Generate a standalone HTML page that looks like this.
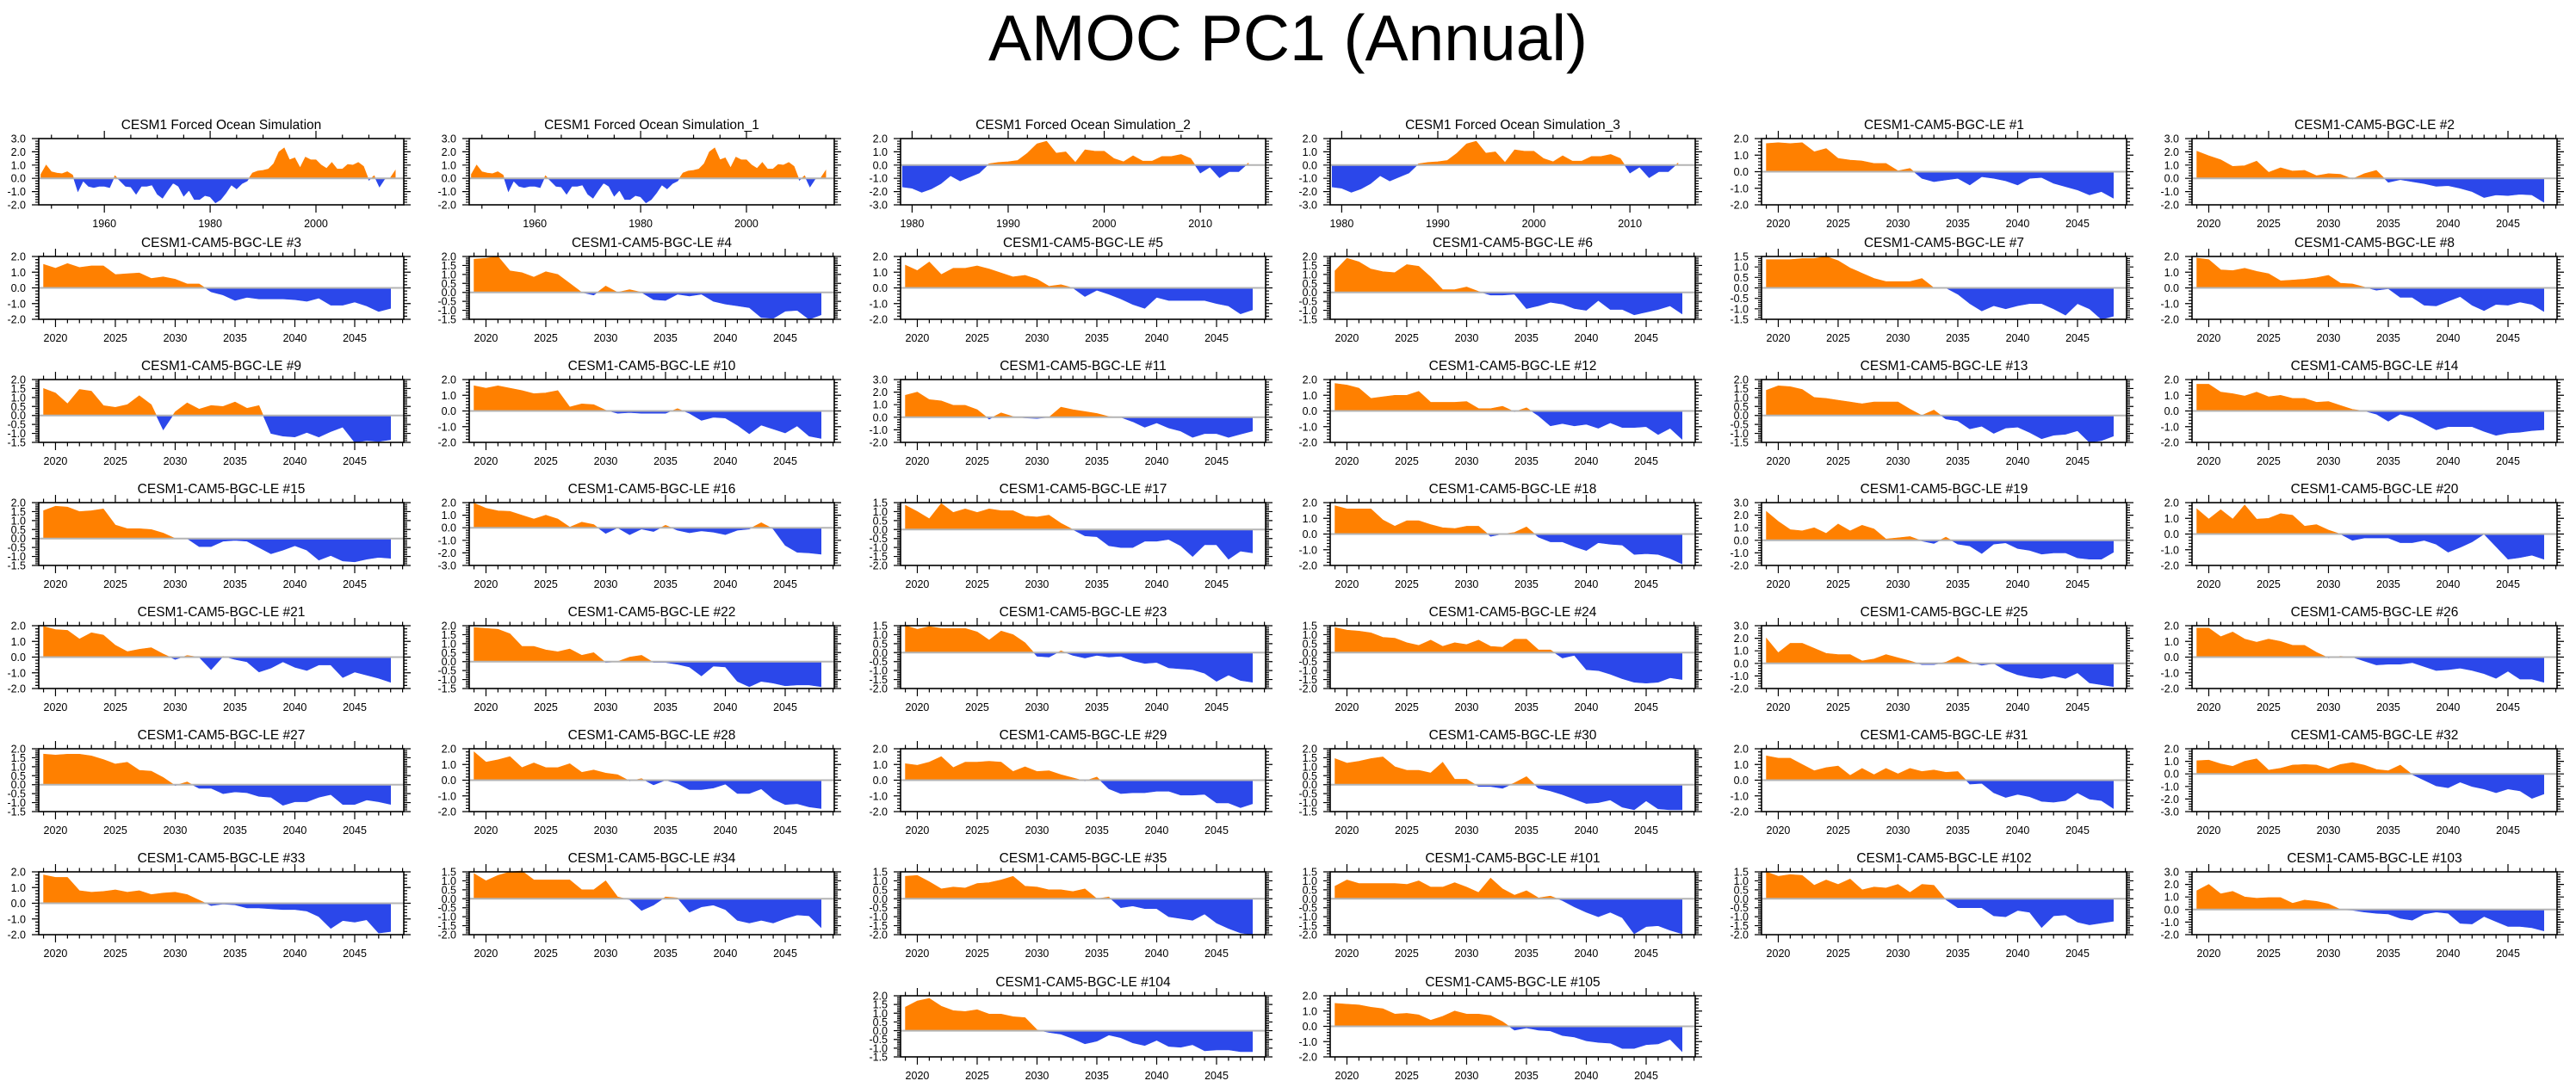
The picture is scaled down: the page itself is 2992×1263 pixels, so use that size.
<!DOCTYPE html>
<html><head><meta charset="utf-8"><title>AMOC PC1 (Annual)</title>
<style>
html,body{margin:0;padding:0;background:#fff;}
svg{display:block;font-family:"Liberation Sans",Arial,sans-serif;}
</style></head>
<body>
<svg id="fig" width="2992" height="1263" viewBox="0 0 2992 1263" xmlns="http://www.w3.org/2000/svg">
<rect width="2992" height="1263" fill="#fff"/>
<text x="1496" y="70" font-size="75" text-anchor="middle" fill="#000">AMOC PC1 (Annual)</text>
</svg>
<script>
// ---- chart data ----
const titles = ["CESM1 Forced Ocean Simulation","CESM1 Forced Ocean Simulation_1","CESM1 Forced Ocean Simulation_2","CESM1 Forced Ocean Simulation_3",
"CESM1-CAM5-BGC-LE #1","CESM1-CAM5-BGC-LE #2","CESM1-CAM5-BGC-LE #3","CESM1-CAM5-BGC-LE #4","CESM1-CAM5-BGC-LE #5","CESM1-CAM5-BGC-LE #6","CESM1-CAM5-BGC-LE #7","CESM1-CAM5-BGC-LE #8",
"CESM1-CAM5-BGC-LE #9","CESM1-CAM5-BGC-LE #10","CESM1-CAM5-BGC-LE #11","CESM1-CAM5-BGC-LE #12","CESM1-CAM5-BGC-LE #13","CESM1-CAM5-BGC-LE #14",
"CESM1-CAM5-BGC-LE #15","CESM1-CAM5-BGC-LE #16","CESM1-CAM5-BGC-LE #17","CESM1-CAM5-BGC-LE #18","CESM1-CAM5-BGC-LE #19","CESM1-CAM5-BGC-LE #20",
"CESM1-CAM5-BGC-LE #21","CESM1-CAM5-BGC-LE #22","CESM1-CAM5-BGC-LE #23","CESM1-CAM5-BGC-LE #24","CESM1-CAM5-BGC-LE #25","CESM1-CAM5-BGC-LE #26",
"CESM1-CAM5-BGC-LE #27","CESM1-CAM5-BGC-LE #28","CESM1-CAM5-BGC-LE #29","CESM1-CAM5-BGC-LE #30","CESM1-CAM5-BGC-LE #31","CESM1-CAM5-BGC-LE #32",
"CESM1-CAM5-BGC-LE #33","CESM1-CAM5-BGC-LE #34","CESM1-CAM5-BGC-LE #35","CESM1-CAM5-BGC-LE #101","CESM1-CAM5-BGC-LE #102","CESM1-CAM5-BGC-LE #103",
"CESM1-CAM5-BGC-LE #104","CESM1-CAM5-BGC-LE #105"];
const startYears = [1948,1948,1979,1979].concat(new Array(40).fill(2019));
const xMins = [1947.6,1947.6,1978.8,1978.8].concat(new Array(40).fill(2018.6));
const xMaxs = [2016.6,2016.6,2016.8,2016.8].concat(new Array(40).fill(2049.1));
const yMins = [-2,-2,-3,-3, -2,-2, -2,-1.5,-2,-1.5,-1.5,-2, -1.5,-2,-2,-2,-1.5,-2, -1.5,-3,-2,-2,-2,-2, -2,-1.5,-2,-2,-2,-2, -1.5,-2,-2,-1.5,-2,-3, -2,-2,-2,-2,-2,-2, -1.5,-2];
const yMaxs = [3,3,2,2, 2,3, 2,2,2,2,1.5,2, 2,2,3,2,2,2, 2,2,1.5,2,3,2, 2,2,1.5,1.5,3,2, 2,2,2,2,2,2, 2,1.5,1.5,1.5,1.5,3, 2,2];
const ySteps = [1,1,1,1, 1,1, 1,0.5,1,0.5,0.5,1, 0.5,1,1,1,0.5,1, 0.5,1,0.5,1,1,1, 1,0.5,0.5,0.5,1,1, 0.5,1,1,0.5,1,1, 1,0.5,0.5,0.5,0.5,1, 0.5,1];

const fos = [0.3,1.0,0.5,0.4,0.35,0.5,0.25,-1.0,-0.2,-0.6,-0.7,-0.6,-0.6,-0.7,0.2,-0.2,-0.6,-0.65,-1.2,-0.6,-0.6,-0.5,-1.2,-1.5,-0.9,-0.35,-0.6,-1.35,-0.9,-1.6,-1.6,-1.3,-1.4,-1.85,-1.6,-1.1,-0.5,-0.8,-0.4,-0.2,0.4,0.55,0.6,0.7,1.1,2.0,2.3,1.4,1.55,0.8,1.6,1.4,1.4,1.0,0.75,1.2,0.7,0.7,1.05,1.0,1.2,0.9,-0.15,0.2,-0.65,-0.05,0.0,0.6];
const fos1 = [0.3,1.0,0.5,0.4,0.35,0.5,0.25,-1.0,-0.2,-0.6,-0.7,-0.6,-0.6,-0.7,0.2,-0.2,-0.6,-0.65,-1.2,-0.6,-0.6,-0.5,-1.2,-1.5,-0.9,-0.35,-0.6,-1.35,-0.9,-1.6,-1.6,-1.3,-1.4,-1.85,-1.6,-1.1,-0.5,-0.8,-0.4,-0.2,0.4,0.55,0.6,0.7,1.1,2.0,2.3,1.4,1.55,0.8,1.6,1.4,1.4,1.0,0.75,1.2,0.7,0.7,1.05,1.0,1.2,0.9,-0.15,0.2,-0.65,-0.05,0.0,0.6];
const fos2 = [-1.65,-1.75,-2.05,-1.8,-1.4,-0.8,-1.2,-0.9,-0.6,0.1,0.2,0.25,0.35,0.9,1.6,1.8,0.9,1.0,0.2,1.15,1.05,1.05,0.5,0.25,0.7,0.3,0.3,0.65,0.65,0.8,0.5,-0.6,-0.15,-0.95,-0.5,-0.5,0.15];
const fos3 = [-1.65,-1.75,-2.05,-1.8,-1.4,-0.8,-1.2,-0.9,-0.6,0.1,0.2,0.25,0.35,0.9,1.6,1.8,0.9,1.0,0.2,1.15,1.05,1.05,0.5,0.25,0.7,0.3,0.3,0.65,0.65,0.8,0.5,-0.6,-0.15,-0.95,-0.5,-0.5,0.15];
const le1 = [1.7,1.75,1.7,1.75,1.2,1.4,0.8,0.7,0.65,0.5,0.5,0.05,0.2,-0.4,-0.6,-0.5,-0.4,-0.8,-0.3,-0.4,-0.55,-0.8,-0.4,-0.35,-0.7,-0.9,-1.1,-1.4,-1.2,-1.6];
const le2 = [2.05,1.7,1.4,0.9,0.95,1.3,0.45,0.8,0.55,0.6,0.2,0.35,0.3,-0.05,0.35,0.6,-0.3,-0.1,-0.25,-0.4,-0.6,-0.55,-0.75,-1.0,-1.45,-1.25,-1.3,-1.2,-1.25,-1.8];
const le3 = [1.5,1.25,1.55,1.3,1.4,1.4,0.85,0.9,0.95,0.6,0.7,0.55,0.25,0.25,-0.25,-0.45,-0.8,-0.6,-0.7,-0.7,-0.7,-0.75,-0.85,-0.65,-1.1,-1.1,-0.9,-1.15,-1.5,-1.3];
const le4 = [1.85,1.9,2.0,1.2,1.1,0.85,1.15,1.0,0.5,0.0,-0.15,0.35,0.0,0.15,0.0,-0.4,-0.45,-0.1,-0.2,-0.1,-0.5,-0.65,-0.75,-0.85,-1.4,-1.45,-1.05,-1.0,-1.5,-1.25];
const le5 = [1.45,1.1,1.65,0.85,1.25,1.25,1.4,1.2,0.95,0.7,0.8,0.55,0.1,0.2,0.0,-0.55,-0.15,-0.4,-0.7,-1.05,-1.3,-0.6,-0.8,-0.8,-0.8,-0.8,-1.0,-1.15,-1.65,-1.4];
const le6 = [1.2,1.9,1.7,1.3,1.15,1.1,1.55,1.45,0.85,0.15,0.15,0.3,0.05,-0.15,-0.15,-0.1,-0.9,-0.75,-0.55,-0.65,-0.9,-1.0,-0.45,-0.95,-0.95,-1.25,-1.1,-0.95,-0.75,-1.2];
const le7 = [1.35,1.35,1.35,1.4,1.4,1.5,1.3,0.95,0.7,0.45,0.3,0.3,0.3,0.45,0.0,0.0,-0.3,-0.75,-1.1,-0.85,-1.0,-0.85,-0.75,-0.75,-1.0,-1.3,-0.75,-1.0,-1.5,-1.35];
const le8 = [1.9,1.8,1.15,1.1,1.25,1.05,0.9,0.45,0.5,0.55,0.65,0.8,0.3,0.25,0.05,-0.15,-0.05,-0.6,-0.6,-1.1,-1.15,-0.85,-0.55,-1.1,-1.45,-1.05,-1.1,-0.9,-1.05,-1.5];
const le9 = [1.5,1.25,0.65,1.45,1.35,0.55,0.45,0.6,1.1,0.6,-0.8,0.2,0.7,0.35,0.55,0.5,0.75,0.4,0.55,-1.0,-1.15,-1.2,-0.95,-1.2,-0.9,-0.65,-1.5,-1.4,-1.45,-1.35];
const le10 = [1.6,1.45,1.6,1.45,1.3,1.1,1.15,1.3,0.25,0.45,0.4,0.05,-0.15,-0.1,-0.15,-0.15,-0.15,0.15,-0.15,-0.6,-0.4,-0.45,-0.9,-1.45,-0.9,-1.15,-1.4,-0.95,-1.6,-1.75];
const le11 = [1.75,2.0,1.4,1.3,0.95,0.95,0.6,-0.15,0.35,0.05,-0.05,-0.1,0.0,0.8,0.6,0.45,0.3,0.05,0.0,-0.35,-0.8,-0.45,-0.85,-1.1,-1.6,-1.3,-1.3,-1.6,-1.35,-1.1];
const le12 = [1.75,1.65,1.45,0.8,0.9,1.0,1.0,1.25,0.55,0.55,0.55,0.6,0.15,0.15,0.3,-0.05,0.2,-0.3,-0.95,-0.8,-0.95,-0.85,-1.1,-0.75,-1.05,-1.05,-1.0,-1.5,-1.1,-1.8];
const le13 = [1.4,1.65,1.6,1.45,1.0,0.95,0.85,0.75,0.65,0.75,0.75,0.75,0.35,0.0,0.3,-0.2,-0.3,-0.75,-0.6,-1.0,-0.7,-0.65,-0.95,-1.3,-1.1,-1.05,-0.85,-1.5,-1.4,-1.15];
const le14 = [1.7,1.7,1.2,1.1,0.95,1.2,0.9,1.0,0.8,0.8,0.55,0.6,0.35,0.1,0.0,-0.2,-0.65,-0.2,-0.4,-0.8,-1.2,-1.0,-1.0,-1.0,-1.3,-1.55,-1.4,-1.35,-1.25,-1.2];
const le15 = [1.55,1.8,1.75,1.5,1.55,1.65,0.75,0.55,0.55,0.5,0.3,0.0,0.0,-0.45,-0.45,-0.15,-0.1,-0.15,-0.5,-0.85,-0.65,-0.4,-0.65,-1.2,-0.95,-1.25,-1.3,-1.15,-1.05,-1.1];
const le16 = [1.95,1.55,1.35,1.3,1.0,0.7,1.0,0.7,0.05,0.45,0.25,-0.45,0.0,-0.55,-0.1,-0.3,0.2,-0.2,-0.4,-0.25,-0.35,-0.55,-0.2,-0.1,0.4,-0.1,-1.4,-1.95,-2.0,-2.1];
const le17 = [1.35,1.0,0.6,1.45,0.95,1.15,0.95,1.15,1.05,1.05,0.75,0.7,0.8,0.35,0.0,-0.35,-0.4,-0.9,-1.0,-1.0,-0.65,-0.65,-0.55,-0.9,-1.5,-0.85,-0.85,-1.65,-1.2,-1.3];
const le18 = [1.8,1.6,1.6,1.6,0.9,0.5,0.85,0.85,0.6,0.4,0.35,0.5,0.5,-0.15,0.0,0.1,0.45,-0.2,-0.5,-0.5,-0.8,-1.05,-0.55,-0.65,-0.7,-1.3,-1.25,-1.3,-1.55,-1.9];
const le19 = [2.3,1.5,0.85,0.75,1.0,0.55,1.3,0.75,1.2,0.9,0.1,0.2,0.3,-0.05,-0.25,0.25,-0.3,-0.45,-1.05,-0.3,-0.2,-0.65,-0.8,-1.1,-1.0,-1.0,-1.4,-1.5,-1.5,-0.95];
const le20 = [1.6,0.95,1.55,0.95,1.85,0.95,1.0,1.3,1.2,0.5,0.6,0.25,0.0,-0.4,-0.25,-0.25,-0.25,-0.55,-0.55,-0.4,-0.65,-1.15,-0.85,-0.5,0.0,-0.8,-1.6,-1.5,-1.35,-1.6];
const le21 = [1.95,1.75,1.7,1.15,1.55,1.4,0.75,0.35,0.5,0.6,0.2,-0.15,0.1,0.0,-0.8,0.05,-0.15,-0.3,-0.95,-0.7,-0.3,-0.65,-0.85,-0.5,-0.5,-1.3,-0.95,-1.15,-1.35,-1.6];
const le22 = [1.9,1.85,1.8,1.55,0.85,0.85,0.65,0.55,0.7,0.35,0.5,-0.05,0.0,0.25,0.35,-0.05,-0.05,-0.15,-0.3,-0.8,-0.25,-0.3,-1.1,-1.4,-1.1,-1.2,-1.35,-1.3,-1.3,-1.4];
const le23 = [1.5,1.3,1.45,1.35,1.35,1.35,1.15,0.7,1.2,1.0,0.55,-0.2,-0.25,0.1,-0.15,-0.3,-0.15,-0.25,-0.2,-0.45,-0.6,-0.55,-0.85,-0.9,-0.95,-1.15,-1.6,-1.25,-1.55,-1.65];
const le24 = [1.4,1.25,1.2,1.1,0.85,0.8,0.55,0.4,0.7,0.35,0.55,0.45,0.7,0.35,0.3,0.75,0.75,0.15,0.15,-0.3,-0.15,-0.95,-1.0,-1.2,-1.45,-1.65,-1.7,-1.65,-1.4,-1.5];
const le25 = [2.0,0.85,1.6,1.6,1.2,0.8,0.7,0.7,0.2,0.35,0.7,0.45,0.2,-0.1,-0.1,0.1,0.55,0.1,-0.15,0.0,-0.55,-0.9,-1.1,-1.2,-1.0,-1.2,-0.75,-1.55,-1.7,-1.85];
const le26 = [1.85,1.85,1.3,1.6,1.15,0.95,1.15,1.0,0.75,0.75,0.3,-0.05,0.05,0.0,-0.25,-0.5,-0.45,-0.45,-0.35,-0.6,-0.85,-0.8,-0.7,-0.85,-1.05,-1.35,-0.9,-1.4,-1.4,-1.6];
const le27 = [1.7,1.65,1.7,1.7,1.6,1.4,1.15,1.25,0.8,0.75,0.4,-0.05,0.15,-0.2,-0.2,-0.5,-0.4,-0.45,-0.65,-0.7,-1.15,-0.95,-0.95,-0.7,-0.55,-1.1,-1.1,-0.85,-0.95,-1.1];
const le28 = [1.8,1.15,1.3,1.5,0.8,1.1,0.8,0.8,1.05,0.5,0.65,0.45,0.35,-0.05,0.1,-0.3,0.0,-0.2,-0.6,-0.6,-0.5,-0.25,-0.85,-0.85,-0.55,-1.2,-1.55,-1.5,-1.7,-1.8];
const le29 = [1.05,0.95,1.15,1.5,0.8,1.15,1.15,1.2,1.15,0.55,0.85,0.55,0.6,0.35,0.15,-0.05,0.2,-0.55,-0.85,-0.8,-0.8,-0.7,-0.7,-0.95,-0.95,-0.9,-1.45,-1.45,-1.75,-1.5];
const le30 = [1.45,1.2,1.3,1.45,1.55,1.0,0.8,0.8,0.65,1.25,0.3,0.3,-0.1,-0.1,-0.2,0.1,0.45,-0.2,-0.35,-0.55,-0.8,-1.05,-1.0,-0.85,-1.25,-1.4,-0.9,-1.35,-1.4,-1.4];
const le31 = [1.55,1.4,1.4,1.0,0.6,0.8,0.9,0.3,0.75,0.35,0.75,0.4,0.75,0.55,0.65,0.5,0.55,-0.25,-0.2,-0.8,-1.1,-0.9,-1.05,-1.35,-1.4,-1.3,-0.8,-1.2,-1.3,-1.8];
const le32 = [1.05,1.1,0.8,0.6,1.0,1.2,0.3,0.45,0.7,0.75,0.7,0.4,0.75,0.9,0.7,0.35,0.25,0.7,-0.05,-0.5,-0.95,-1.1,-0.65,-1.0,-1.2,-1.5,-1.2,-1.35,-1.95,-1.6];
const le33 = [1.8,1.65,1.65,0.8,0.7,0.75,0.85,0.7,0.8,0.55,0.65,0.7,0.55,0.2,-0.15,-0.05,-0.1,-0.3,-0.3,-0.35,-0.4,-0.4,-0.5,-0.85,-1.6,-1.1,-1.2,-1.05,-1.9,-1.8];
const le34 = [1.4,1.0,1.3,1.5,1.55,1.05,1.05,1.05,1.05,0.5,0.5,1.0,0.1,-0.05,-0.65,-0.35,0.1,0.05,-0.75,-0.45,-0.35,-0.6,-1.2,-1.35,-1.2,-1.35,-1.1,-0.9,-0.95,-1.6];
const le35 = [1.25,1.3,0.95,0.55,0.65,0.6,0.85,0.9,1.05,1.25,0.7,0.65,0.5,0.5,0.4,0.55,0.0,0.1,-0.5,-0.4,-0.55,-0.55,-1.0,-1.1,-1.2,-0.85,-1.35,-1.65,-1.9,-2.0];
const le101 = [0.7,1.05,0.85,0.85,0.85,0.85,0.8,1.0,0.65,0.65,0.9,0.65,0.35,1.15,0.55,0.2,0.45,0.05,0.15,-0.1,-0.45,-0.75,-1.0,-0.75,-1.05,-1.95,-1.55,-1.5,-1.75,-1.95];
const le102 = [1.5,1.25,1.35,1.3,0.75,1.05,0.8,1.1,0.5,0.65,0.6,0.8,0.35,0.8,0.75,-0.05,-0.5,-0.5,-0.5,-0.95,-1.0,-0.65,-0.75,-1.6,-0.95,-0.9,-1.3,-1.45,-1.35,-1.25];
const le103 = [1.5,2.0,1.25,1.45,1.0,0.9,0.95,0.95,0.5,0.75,0.65,0.45,0.0,-0.05,-0.2,-0.3,-0.35,-0.7,-0.85,-0.35,-0.2,-0.3,-1.1,-1.15,-0.55,-0.95,-1.35,-1.35,-1.45,-1.7];
const le104 = [1.35,1.7,1.85,1.4,1.15,1.1,1.2,0.95,0.95,0.8,0.75,0.05,-0.1,-0.2,-0.45,-0.75,-0.6,-0.25,-0.4,-0.7,-0.85,-0.55,-0.9,-0.95,-0.8,-1.15,-1.1,-1.1,-1.2,-1.2];
const le105 = [1.5,1.45,1.4,1.25,1.15,0.8,0.85,0.75,0.4,0.65,1.0,0.8,0.8,0.7,0.3,-0.25,-0.1,-0.25,-0.3,-0.6,-0.7,-0.95,-1.05,-1.1,-1.45,-1.45,-1.2,-1.15,-0.85,-1.65];
const series = [fos,fos1,fos2,fos3,le1,le2,le3,le4,le5,le6,le7,le8,le9,le10,le11,le12,le13,le14,le15,le16,le17,le18,le19,le20,le21,le22,le23,le24,le25,le26,le27,le28,le29,le30,le31,le32,le33,le34,le35,le101,le102,le103,le104,le105];

// ---- drawing ----
const NS = "http://www.w3.org/2000/svg";
const svg = document.getElementById("fig");
function mk(tag, attrs, parent) {
  const e = document.createElementNS(NS, tag);
  for (const k in attrs) e.setAttribute(k, attrs[k]);
  parent.appendChild(e);
  return e;
}
const COL_X = [45, 545, 1046, 1545, 2046, 2546];
const PW = 424;
function panelBox(i) {
  let row, col;
  if (i < 42) { row = Math.floor(i / 6); col = i % 6; } else { row = 7; col = 2 + (i - 42); }
  let top, h;
  if (row === 0) { top = 161; h = 77; }
  else if (row === 7) { top = 1157; h = 71; }
  else { top = 298 + (row - 1) * 143; h = 73; }
  return { x: COL_X[col], y: top, w: PW, h: h };
}
function slug(t) { return t.toLowerCase().replace(/[^a-z0-9]+/g, "-").replace(/^-|-$/g, ""); }

series.forEach(function (vals, i) {
  const b = panelBox(i);
  const xmin = xMins[i], xmax = xMaxs[i], ymin = yMins[i], ymax = yMaxs[i], ystep = ySteps[i];
  const sx = function (t) { return b.x + (t - xmin) / (xmax - xmin) * b.w; };
  const sy = function (v) { return b.y + b.h - (v - ymin) / (ymax - ymin) * b.h; };
  const g = mk("g", {}, svg);
  
  

  const tt = mk("text", { x: b.x + b.w / 2, y: b.y - 11, "font-size": 15.5, "text-anchor": "middle", fill: "#000" }, g);
  tt.textContent = titles[i];
  
  

  const pts = [];
  for (let k = 0; k < vals.length; k++) {
    const t = startYears[i] + k, v = vals[k];
    if (k > 0) {
      const pv = vals[k - 1];
      if ((pv > 0 && v < 0) || (pv < 0 && v > 0)) {
        const f = pv / (pv - v);
        pts.push([t - 1 + f, 0]);
      }
    }
    pts.push([t, v]);
  }
  const y0 = sy(0);
  const first = sx(pts[0][0]), last = sx(pts[pts.length - 1][0]);
  let pos = first + "," + y0 + " ", neg = first + "," + y0 + " ";
  pts.forEach(function (p) {
    pos += sx(p[0]).toFixed(2) + "," + sy(Math.max(p[1], 0)).toFixed(2) + " ";
    neg += sx(p[0]).toFixed(2) + "," + sy(Math.min(p[1], 0)).toFixed(2) + " ";
  });
  pos += last + "," + y0; neg += last + "," + y0;
  const pp = mk("polygon", { points: pos, fill: "#ff8000", stroke: "#ff8000", "stroke-width": 0.6 }, g);
  
  
  const np = mk("polygon", { points: neg, fill: "#2b47ea", stroke: "#2b47ea", "stroke-width": 0.6 }, g);
  
  

  const zl = mk("line", { x1: b.x, x2: b.x + b.w, y1: y0, y2: y0, stroke: "#b4b4b4", "stroke-width": 2 }, g);
  
  

  const fr = mk("rect", { x: b.x, y: b.y, width: b.w, height: b.h, fill: "none", stroke: "#000", "stroke-width": 1.6 }, g);
  
  

  let tk = "";
  const yminor = ystep / 5;
  const nY = Math.round((ymax - ymin) / yminor);
  for (let k = 0; k <= nY; k++) {
    const v = ymin + k * yminor;
    const yy = sy(v);
    const major = (k % 5 === 0);
    const L = major ? 8 : 4;
    tk += "M" + b.x + "," + yy + "h" + (-L) + "M" + (b.x + b.w) + "," + yy + "h" + L;
    if (major) {
      const lab = mk("text", { x: b.x - 15, y: yy + 4.5, "font-size": 12.5, "text-anchor": "end", fill: "#000" }, g);
      lab.textContent = v.toFixed(1);
      
      
    }
  }
  let xmaj, xmnr;
  if (startYears[i] < 1970) { xmaj = 20; xmnr = 5; } else if (startYears[i] < 2000) { xmaj = 10; xmnr = 2; } else { xmaj = 5; xmnr = 1; }
  for (let t = Math.ceil(xmin / xmnr) * xmnr; t <= xmax; t += xmnr) {
    const xx = sx(t);
    const major = (t % xmaj === 0);
    const L = major ? 9 : 4.5;
    tk += "M" + xx + "," + b.y + "v" + (-L) + "M" + xx + "," + (b.y + b.h) + "v" + L;
    if (major) {
      const lab = mk("text", { x: xx, y: b.y + b.h + 26, "font-size": 12.5, "text-anchor": "middle", fill: "#000" }, g);
      lab.textContent = String(t);
      
      
    }
  }
  const tp = mk("path", { d: tk, stroke: "#000", "stroke-width": 1.2, fill: "none" }, g);
  
  
});
</script>
</body></html>
